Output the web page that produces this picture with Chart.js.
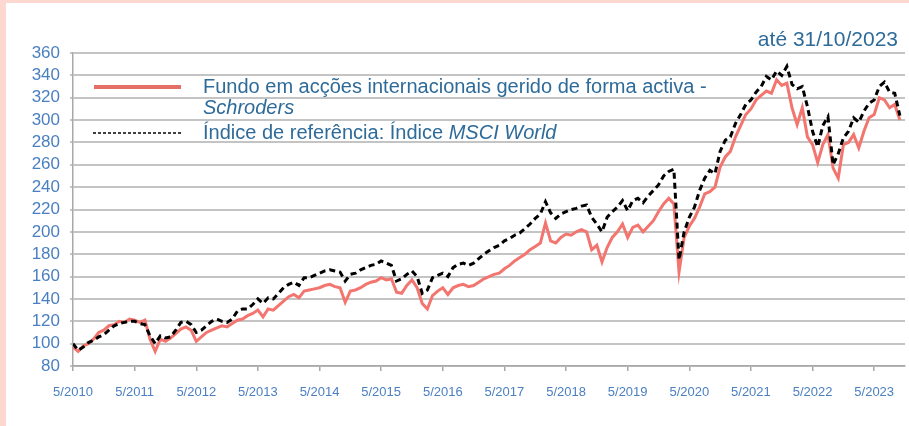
<!DOCTYPE html>
<html lang="pt">
<head>
  <meta charset="UTF-8" />
  <title>Fundo vs MSCI World</title>
  <script src="https://cdn.jsdelivr.net/npm/chart.js"></script>
  <style>
    html, body {
      margin: 0;
      padding: 0;
      background: #fcd8d1;
    }
    #wrap {
      position: relative;
      width: 909px;
      height: 426px;
    }
  </style>
</head>
<body>
  <div id="wrap">
    <canvas id="chart" width="909" height="426"></canvas>
  </div>

  <script>
    // monthly values, 5/2010 .. 10/2023
    const startYear = 2010;
    const startMonth = 5;

    const fundo = [
      97, 93, 98, 100, 104, 110, 112, 116,
      117, 120, 119, 122, 121, 119, 121, 104, 93, 104, 102, 105,
      109, 113, 115, 112, 102, 106, 110, 112, 114, 116, 115, 118,
      121, 122, 125, 127, 130, 124, 131, 130, 134, 138, 142, 144,
      141, 147, 148, 149, 150, 152, 153, 151, 150, 137, 147, 148,
      150, 153, 155, 156, 159, 157, 158, 146, 145, 152, 157, 150,
      136, 131, 143, 147, 150, 144, 150, 152, 153, 151, 152, 155,
      158, 160, 162, 163, 167, 170, 174, 177, 180, 184, 187, 190,
      208, 192, 190, 195, 198, 197, 200, 202, 200, 184, 188, 173,
      186, 195, 200, 207, 195, 204, 206, 200, 205, 210, 218, 225,
      230, 225, 164, 195, 205, 212, 222, 234, 236, 240, 258, 267,
      272, 285, 295, 305, 310, 318, 322, 326, 324, 336, 331, 333,
      311, 296, 311, 285, 278, 262, 278, 287, 257, 248, 278, 280,
      287, 275, 290, 302, 305, 320, 318, 311, 314, 300
    ];

    const indice = [
      100, 94, 97, 101, 103, 106, 108, 112,
      116, 118, 119, 120, 120, 118, 117, 107, 100, 107, 105, 106,
      112, 119, 120, 117, 110, 112, 116, 120, 122, 120, 119, 122,
      129, 131, 131, 135, 140, 136, 141, 140, 145, 150, 153, 155,
      152, 159, 159, 161, 163, 165, 166, 165, 164, 156, 162, 163,
      166, 168, 170, 171, 174, 172, 170, 156, 158, 162, 165, 160,
      145, 148, 159, 161, 163, 160, 168, 171, 172, 170, 172, 176,
      180, 183, 186, 188, 192, 194, 197, 199, 203, 207, 212, 216,
      227, 217, 212, 216, 218, 220, 221, 223, 224, 213, 207, 200,
      213, 218, 222, 228, 219, 228, 230, 226, 232, 237, 242, 250,
      254, 256, 175, 200, 213, 222, 237, 248, 255, 252, 272, 282,
      285, 297, 305, 314, 318, 325, 330, 339, 336, 344, 340, 348,
      332, 328, 330, 312, 290, 276, 295, 303, 260, 270, 284, 290,
      302, 298, 308, 315, 318, 330, 334, 325, 324, 304
    ];

    const yMin = 80;
    const yMax = 360;
    const yStep = 20;

    const fundoLabel = ['Fundo em acções internacionais gerido de forma activa -', 'Schroders'];
    const indiceLabel = ['Índice de referência: Índice ', 'MSCI World'];
    const dateNote = 'até 31/10/2023';

    const blue = '#2e6b99';
    const tickBlue = '#4a7fc1';
    const fontFam = '"Liberation Sans", Arial, sans-serif';

    const toPoints = arr => arr.map((v, i) => ({ x: i, y: v }));

    // pink frame + white card
    const framePlugin = {
      id: 'frame',
      beforeDraw(chart) {
        const ctx = chart.ctx;
        ctx.save();
        ctx.fillStyle = '#fcd8d1';
        ctx.fillRect(0, 0, chart.width, chart.height);
        ctx.fillStyle = '#ffffff';
        ctx.fillRect(6, 3, chart.width, chart.height);
        ctx.restore();
      }
    };

    // legend and date note drawn by hand (mixed italic text)
    const legendPlugin = {
      id: 'customLegend',
      afterDraw(chart) {
        const ctx = chart.ctx;
        ctx.save();

        ctx.fillStyle = blue;
        ctx.textBaseline = 'middle';
        ctx.font = '21px ' + fontFam;
        ctx.textAlign = 'right';
        ctx.fillText(dateNote, 898, 40);

        ctx.textAlign = 'left';
        ctx.strokeStyle = '#e56f67';
        ctx.lineWidth = 4;
        ctx.beginPath();
        ctx.moveTo(94, 87);
        ctx.lineTo(181, 87);
        ctx.stroke();

        ctx.font = '20px ' + fontFam;
        ctx.fillText(fundoLabel[0], 203, 87);
        ctx.font = 'italic 20px ' + fontFam;
        ctx.fillText(fundoLabel[1], 203, 108);

        ctx.strokeStyle = '#000';
        ctx.lineWidth = 1.5;
        ctx.setLineDash([3, 2]);
        ctx.beginPath();
        ctx.moveTo(93, 133);
        ctx.lineTo(181, 133);
        ctx.stroke();
        ctx.setLineDash([]);

        ctx.font = '20px ' + fontFam;
        ctx.fillText(indiceLabel[0], 203, 133);
        const w = ctx.measureText(indiceLabel[0]).width;
        ctx.font = 'italic 20px ' + fontFam;
        ctx.fillText(indiceLabel[1], 203 + w, 133);

        ctx.restore();
      }
    };

    const ctx = document.getElementById('chart').getContext('2d');
    new Chart(ctx, {
      type: 'line',
      data: {
        datasets: [
          {
            label: fundoLabel.join(' '),
            data: toPoints(fundo),
            borderColor: '#f2766f',
            borderWidth: 3,
            pointRadius: 0,
            tension: 0,
            order: 2
          },
          {
            label: indiceLabel.join(''),
            data: toPoints(indice),
            borderColor: '#000000',
            borderWidth: 3,
            borderDash: [6, 4],
            pointRadius: 0,
            tension: 0,
            order: 1
          }
        ]
      },
      options: {
        responsive: false,
        animation: false,
        layout: {
          padding: { top: 53, right: 4, bottom: 0, left: 0 }
        },
        plugins: {
          legend: { display: false },
          tooltip: { enabled: false }
        },
        scales: {
          x: {
            type: 'linear',
            min: 0,
            max: 162,
            afterBuildTicks(scale) {
              const t = [];
              for (let v = 0; v <= 161; v += 12) t.push({ value: v });
              scale.ticks = t;
            },
            afterFit(scale) { scale.height = 60; },
            ticks: {
              autoSkip: false,
              maxRotation: 0,
              padding: 14,
              color: tickBlue,
              font: { family: fontFam, size: 13 },
              callback: v => startMonth + '/' + (startYear + Math.round(v / 12))
            },
            grid: {
              drawOnChartArea: false,
              drawTicks: true,
              tickLength: 5,
              color: '#a8a8a8',
              lineWidth: 1.5
            },
            border: { color: '#a8a8a8', width: 1.5 }
          },
          y: {
            min: yMin,
            max: yMax,
            afterFit(scale) { scale.width = 73; },
            ticks: {
              stepSize: yStep,
              autoSkip: false,
              padding: 10,
              color: tickBlue,
              font: { family: fontFam, size: 17 }
            },
            grid: {
              color: '#c4c4c4',
              lineWidth: 2,
              tickLength: 3
            },
            border: { color: '#a8a8a8', width: 1.5 }
          }
        }
      },
      plugins: [framePlugin, legendPlugin]
    });
  </script>
</body>
</html>
